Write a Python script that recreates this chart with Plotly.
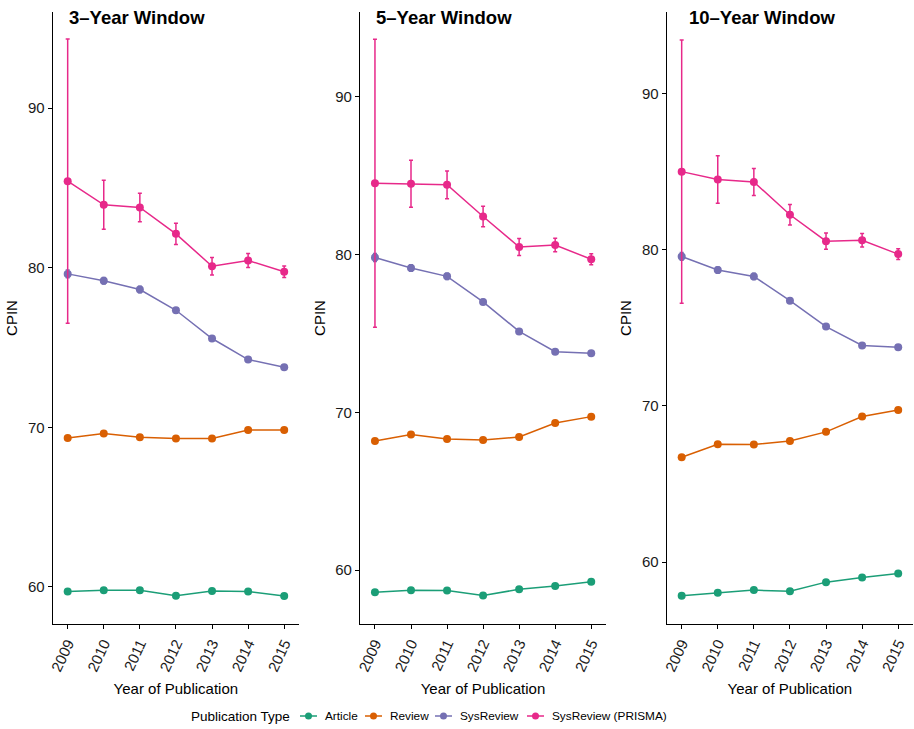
import plotly.graph_objects as go

years = [2009, 2010, 2011, 2012, 2013, 2014, 2015]
year_labels = [str(y) for y in years]
panel_titles = ["3\u2013Year Window", "5\u2013Year Window", "10\u2013Year Window"]
series_names = ["Article", "Review", "SysReview", "SysReview (PRISMA)"]
series_colors = ["#1B9E77", "#D95F02", "#7570B3", "#E7298A"]
y_ticks = [60, 70, 80, 90]

# 3-year window
article_3 = [59.71, 59.79, 59.79, 59.45, 59.75, 59.71, 59.44]
review_3 = [69.33, 69.62, 69.39, 69.31, 69.31, 69.83, 69.83]
sysrev_3 = [79.62, 79.19, 78.64, 77.34, 75.57, 74.25, 73.77]
prisma_3 = [85.43, 83.95, 83.78, 82.13, 80.10, 80.46, 79.75]
sysrev_err_3 = [0.25, 0.2, 0.2, 0.15, 0.12, 0.1, 0.1]
prisma_err_3 = [8.91, 1.53, 0.90, 0.67, 0.55, 0.44, 0.36]

# 5-year window
article_5 = [58.60, 58.73, 58.71, 58.39, 58.79, 59.00, 59.26]
review_5 = [68.18, 68.59, 68.31, 68.25, 68.44, 69.33, 69.73]
sysrev_5 = [79.81, 79.15, 78.62, 77.00, 75.13, 73.84, 73.74]
prisma_5 = [84.52, 84.48, 84.42, 82.41, 80.48, 80.61, 79.70]
sysrev_err_5 = [0.25, 0.2, 0.2, 0.15, 0.12, 0.1, 0.1]
prisma_err_5 = [9.12, 1.49, 0.88, 0.65, 0.54, 0.43, 0.35]

# 10-year window
article_10 = [57.85, 58.04, 58.21, 58.13, 58.72, 59.02, 59.28]
review_10 = [66.72, 67.55, 67.53, 67.76, 68.34, 69.32, 69.74]
sysrev_10 = [79.57, 78.70, 78.29, 76.74, 75.08, 73.87, 73.76]
prisma_10 = [85.00, 84.49, 84.34, 82.24, 80.55, 80.61, 79.72]
sysrev_err_10 = [0.25, 0.2, 0.2, 0.15, 0.12, 0.1, 0.1]
prisma_err_10 = [8.43, 1.52, 0.86, 0.66, 0.52, 0.43, 0.34]

panels = [
    [article_3, review_3, sysrev_3, prisma_3],
    [article_5, review_5, sysrev_5, prisma_5],
    [article_10, review_10, sysrev_10, prisma_10],
]
panel_errs = [
    [None, None, sysrev_err_3, prisma_err_3],
    [None, None, sysrev_err_5, prisma_err_5],
    [None, None, sysrev_err_10, prisma_err_10],
]

W, H = 914, 729
x_domains = [(52.7 / W, 299 / W), (360 / W, 606 / W), (666.7 / W, 913 / W)]
y_domain = (1 - 624 / H, 1 - 12 / H)
y_ranges = [(57.68, 96.03), (56.59, 95.37), (56.04, 95.22)]
x_range = (2008.585, 2015.41)
title_x = [67, 374, 687]

fig = go.Figure()
for p in range(3):
    xa = "x" if p == 0 else f"x{p+1}"
    ya = "y" if p == 0 else f"y{p+1}"
    for s in range(4):
        err = panel_errs[p][s]
        fig.add_trace(go.Scatter(
            x=years, y=panels[p][s], mode="lines+markers",
            name=series_names[s], showlegend=False,
            line=dict(color=series_colors[s], width=1.5),
            marker=dict(color=series_colors[s], size=8),
            error_y=(dict(type="data", array=err, color=series_colors[s],
                          thickness=1.5, width=2) if err else None),
            xaxis=xa, yaxis=ya,
        ))

font_family = "Liberation Sans, Arial, sans-serif"
layout = dict(
    width=W, height=H, paper_bgcolor="white", plot_bgcolor="white",
    margin=dict(l=0, r=0, t=0, b=0),
    font=dict(family=font_family, color="black", size=14),
    showlegend=False,
)
annotations = []
shapes = []
for p in range(3):
    suffix = "" if p == 0 else str(p + 1)
    layout["xaxis" + suffix] = dict(
        domain=list(x_domains[p]), range=list(x_range), anchor="y" + suffix,
        tickvals=years, ticktext=year_labels, tickangle=-65,
        showline=True, linecolor="black", linewidth=1.1, ticks="outside",
        ticklen=4, tickcolor="black", showgrid=False, zeroline=False,
        tickfont=dict(size=15, color="#1a1a1a"), automargin=False,
        title=dict(text="Year of Publication", font=dict(size=15), standoff=10),
    )
    layout["yaxis" + suffix] = dict(
        domain=list(y_domain), range=list(y_ranges[p]), anchor="x" + suffix,
        tickvals=y_ticks, showline=True, linecolor="black", linewidth=1.1,
        ticks="outside", ticklen=4, tickcolor="black", showgrid=False,
        zeroline=False, tickfont=dict(size=15, color="#1a1a1a"), automargin=False,
        title=dict(text="CPIN", font=dict(size=15), standoff=6),
    )
    annotations.append(dict(
        text="<b>" + panel_titles[p] + "</b>", x=title_x[p] / W, y=1 - 17 / H,
        xref="paper", yref="paper", xanchor="left", yanchor="middle",
        showarrow=False, font=dict(size=18.5, color="black"),
    ))

# manual legend (guide) at the bottom
leg_y = 1 - 716 / H
annotations.append(dict(text="Publication Type", x=189 / W, y=leg_y, xref="paper", yref="paper",
                        xanchor="left", yanchor="middle", showarrow=False,
                        font=dict(size=13.5, color="black")))
leg_sym_x = [300, 365, 435, 527]
for s in range(4):
    x0 = leg_sym_x[s]
    shapes.append(dict(type="line", xref="paper", yref="paper",
                       x0=x0 / W, x1=(x0 + 17) / W, y0=leg_y, y1=leg_y,
                       line=dict(color=series_colors[s], width=1.5)))
    cx = x0 + 8.5
    shapes.append(dict(type="circle", xref="paper", yref="paper",
                       x0=(cx - 3.5) / W, x1=(cx + 3.5) / W,
                       y0=leg_y - 3.5 / H, y1=leg_y + 3.5 / H,
                       fillcolor=series_colors[s], line=dict(width=0)))
    annotations.append(dict(text=series_names[s], x=(x0 + 23) / W, y=leg_y,
                            xref="paper", yref="paper", xanchor="left", yanchor="middle",
                            showarrow=False, font=dict(size=11.8, color="black")))

layout["annotations"] = annotations
layout["shapes"] = shapes
fig.update_layout(**layout)
fig.write_html("out.html", config={"displayModeBar": False},
               post_script="document.body.style.margin='0px';")
